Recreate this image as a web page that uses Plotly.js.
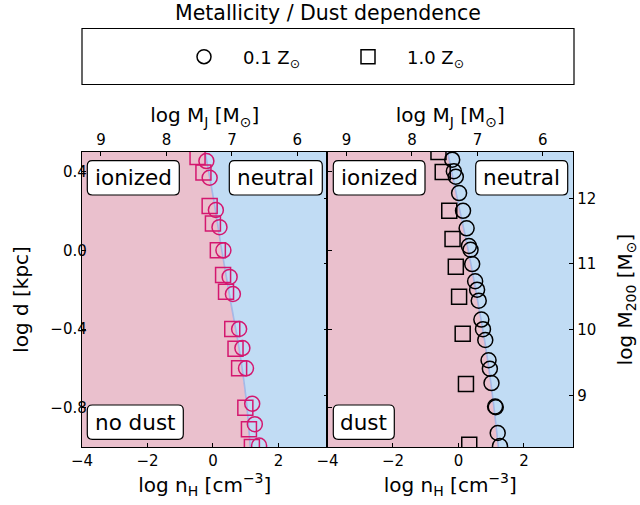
<!DOCTYPE html>
<html>
<head>
<meta charset="utf-8">
<script src="https://cdn.plot.ly/plotly-3.0.1.min.js"></script>
<style>
  html, body { margin: 0; padding: 0; background: #ffffff; }
  #chart { width: 640px; height: 505px; }
</style>
</head>
<body>
<div id="chart"></div>
<script>
// ---- data: log n_H [cm^-3] vs log d [kpc] ----
// "no dust" panel, 0.1 Z_sun (circles) and 1.0 Z_sun (squares)
const noDustCircX = [-0.20, -0.10, 0.09, 0.20, 0.32, 0.51, 0.61, 0.80, 0.90, 1.01, 1.20, 1.28, 1.41];
const noDustCircY = [0.454, 0.369, 0.205, 0.118, 0.0, -0.135, -0.222, -0.400, -0.497, -0.600, -0.780, -0.884, -0.993];
const noDustSqX   = [-0.47, -0.29, -0.10, 0.0, 0.15, 0.31, 0.40, 0.59, 0.69, 0.80, 0.99, 1.10, 1.19];
const noDustSqY   = [0.475, 0.396, 0.226, 0.137, 0.0, -0.125, -0.210, -0.400, -0.500, -0.600, -0.800, -0.910, -1.0];

// "dust" panel
const dustCircX = [-0.19, -0.14, -0.08, 0.02, 0.14, 0.25, 0.32, 0.37, 0.42, 0.51, 0.57, 0.62, 0.70, 0.75, 0.82, 0.92, 0.96, 1.01, 1.12, 1.14, 1.20, 1.27];
const dustCircY = [0.461, 0.402, 0.374, 0.291, 0.201, 0.112, 0.022, 0.003, -0.070, -0.157, -0.200, -0.256, -0.352, -0.401, -0.456, -0.559, -0.602, -0.675, -0.794, -0.798, -0.929, -0.995];
const dustSqX   = [-0.61, -0.48, -0.28, -0.18, -0.08, 0.02, 0.13, 0.23, 0.33];
const dustSqY   = [0.50, 0.398, 0.201, 0.057, -0.083, -0.236, -0.424, -0.680, -0.989];

// ionized / neutral transition curve in each panel
const edgeY      = [0.5, 0.25, 0.0, -0.25, -0.5, -0.75, -1.0];
const noDustEdgeX = [-0.24, 0.03, 0.27, 0.53, 0.80, 1.01, 1.14];
const dustEdgeX   = [-0.33, -0.02, 0.30, 0.58, 0.84, 1.05, 1.22];

// axis ranges and ticks
const nRange = [-4, 3.5];
const dRange = [-1, 0.5];
const nTicks = [-4, -2, 0, 2];
const dTicks = [0.4, 0.0, -0.4, -0.8];
const mjRange = [9.29, 5.54];          // log M_J along the top (M_J ~ n^-1/2)
const mjTicks = [9, 8, 7, 6];
const m200Range = [8.213, 12.705];     // log M200 along the right
const m200Ticks = [9, 10, 11, 12];

const legendLabels = ['0.1 Z<sub>⊙</sub>', '1.0 Z<sub>⊙</sub>'];

// ---- styling ----
const FONT = 'DejaVu Sans, sans-serif';
const PINK = '#eac0cd';
const BLUE = '#c1dcf4';
const EDGE = 'rgba(150,172,228,0.75)';
const MAGENTA = '#d4176f';

const W = 640, H = 505;
const M = {l: 82, r: 67, t: 152, b: 58};
const PW = W - M.l - M.r, PH = H - M.t - M.b;
const px = v => (v - M.l) / PW;          // pixel -> paper x
const py = v => (H - M.b - v) / PH;      // pixel -> paper y

function regionTraces(edgeX, xa, ya) {
  const top = dRange[1], bot = dRange[0];
  return [
    {x: [nRange[0]].concat(edgeX, [nRange[0]]), y: [top].concat(edgeY, [bot]),
     xaxis: xa, yaxis: ya, mode: 'lines', fill: 'toself', fillcolor: PINK,
     line: {width: 0}, hoverinfo: 'skip', showlegend: false},
    {x: [nRange[1]].concat(edgeX, [nRange[1]]), y: [top].concat(edgeY, [bot]),
     xaxis: xa, yaxis: ya, mode: 'lines', fill: 'toself', fillcolor: BLUE,
     line: {width: 0}, hoverinfo: 'skip', showlegend: false},
    {x: edgeX, y: edgeY, xaxis: xa, yaxis: ya, mode: 'lines',
     line: {color: EDGE, width: 1.6, shape: 'spline'}, hoverinfo: 'skip', showlegend: false}
  ];
}

function pts(x, y, sym, color, xa, ya) {
  return {x: x, y: y, xaxis: xa, yaxis: ya, mode: 'markers', showlegend: false,
          marker: {symbol: sym, size: 15, color: color, line: {width: 1.5, color: color}}};
}

const traces = [].concat(
  regionTraces(noDustEdgeX, 'x', 'y'),
  regionTraces(dustEdgeX, 'x2', 'y2'),
  [
    pts(noDustSqX, noDustSqY, 'square-open', MAGENTA, 'x', 'y'),
    pts(noDustCircX, noDustCircY, 'circle-open', MAGENTA, 'x', 'y'),
    pts(dustSqX, dustSqY, 'square-open', '#000000', 'x2', 'y2'),
    pts(dustCircX, dustCircY, 'circle-open', '#000000', 'x2', 'y2'),
    // empty traces that keep the secondary axes alive
    {x: [null], y: [null], xaxis: 'x3', yaxis: 'y3', mode: 'markers', showlegend: false, hoverinfo: 'skip'},
    {x: [null], y: [null], xaxis: 'x4', yaxis: 'y4', mode: 'markers', showlegend: false, hoverinfo: 'skip'},
    // legend keys
    {x: [null], y: [null], xaxis: 'x', yaxis: 'y', mode: 'markers', name: legendLabels[0],
     legend: 'legend', marker: {symbol: 'circle-open', size: 14, color: '#000', line: {width: 1.5}}},
    {x: [null], y: [null], xaxis: 'x2', yaxis: 'y2', mode: 'markers', name: legendLabels[1],
     legend: 'legend2', marker: {symbol: 'square-open', size: 14, color: '#000', line: {width: 1.5}}}
  ]
);

const tickFont = {family: FONT, size: 15, color: '#000'};
const titleFont = {family: FONT, size: 20, color: '#000'};
const baseAxis = {
  showgrid: false, zeroline: false, showline: true, linecolor: '#000', linewidth: 1.2,
  ticks: 'inside', ticklen: 4, tickwidth: 1, tickcolor: '#000', tickfont: tickFont
};

const nAxis = (domain, anchor) => Object.assign({}, baseAxis, {
  domain: domain, anchor: anchor, range: nRange, tickmode: 'array', tickvals: nTicks,
  title: {text: 'log n<sub>H</sub> [cm<sup>−3</sup>]', font: titleFont, standoff: 6}
});
const mjAxis = (over, anchor) => Object.assign({}, baseAxis, {
  overlaying: over, anchor: anchor, side: 'top', range: mjRange, tickmode: 'array', tickvals: mjTicks,
  title: {text: 'log M<sub>J</sub> [M<sub>⊙</sub>]', font: titleFont, standoff: 2}
});

const legendBase = {
  orientation: 'h', xanchor: 'left', yanchor: 'middle', y: py(57),
  itemwidth: 68, bgcolor: 'rgba(0,0,0,0)', borderwidth: 0,
  font: {family: FONT, size: 18, color: '#000'}
};

function roundBox(x0, y0, x1, y1, r) {
  const X = v => px(v), Y = v => py(v);
  return 'M' + X(x0 + r) + ',' + Y(y0) +
    ' L' + X(x1 - r) + ',' + Y(y0) + ' Q' + X(x1) + ',' + Y(y0) + ' ' + X(x1) + ',' + Y(y0 + r) +
    ' L' + X(x1) + ',' + Y(y1 - r) + ' Q' + X(x1) + ',' + Y(y1) + ' ' + X(x1 - r) + ',' + Y(y1) +
    ' L' + X(x0 + r) + ',' + Y(y1) + ' Q' + X(x0) + ',' + Y(y1) + ' ' + X(x0) + ',' + Y(y1 - r) +
    ' L' + X(x0) + ',' + Y(y0 + r) + ' Q' + X(x0) + ',' + Y(y0) + ' ' + X(x0 + r) + ',' + Y(y0) + ' Z';
}

// text boxes: [label, left, top, right, bottom] in page pixels
const boxes = [
  ['ionized', 87.3, 160.7, 179.3, 195],
  ['neutral', 229.3, 160.7, 322.3, 195],
  ['no dust', 87.3, 405, 183.3, 439.3],
  ['ionized', 333.3, 160.7, 425, 195],
  ['neutral', 475.7, 160.7, 567.7, 195],
  ['dust', 333.3, 405, 394.3, 439.3]
];

const shapes = boxes.map(b => ({
  type: 'path', xref: 'paper', yref: 'paper', path: roundBox(b[1], b[2], b[3], b[4], 5),
  fillcolor: '#ffffff', line: {color: '#000', width: 1.2}, layer: 'above'
}));
shapes.push({type: 'rect', xref: 'paper', yref: 'paper',
  x0: px(82), x1: px(574), y0: py(84.5), y1: py(28.5),
  line: {color: '#000', width: 1.2}, fillcolor: 'rgba(0,0,0,0)'});

const annotations = boxes.map(b => ({
  xref: 'paper', yref: 'paper', x: px((b[1] + b[3]) / 2), y: py((b[2] + b[4]) / 2),
  text: b[0], showarrow: false, xanchor: 'center', yanchor: 'middle',
  font: {family: FONT, size: 21.5, color: '#000'}
}));
annotations.push({xref: 'paper', yref: 'paper', x: px(328), y: py(13), text: 'Metallicity / Dust dependence',
  showarrow: false, xanchor: 'center', yanchor: 'middle', font: {family: FONT, size: 20.5, color: '#000'}});

const layout = {
  width: W, height: H, margin: M, paper_bgcolor: '#fff', plot_bgcolor: '#fff',
  font: {family: FONT, color: '#000'},
  xaxis: nAxis([0, 0.5], 'y'),
  xaxis2: nAxis([0.5, 1], 'y2'),
  xaxis3: mjAxis('x', 'y'),
  xaxis4: mjAxis('x2', 'y2'),
  yaxis: Object.assign({}, baseAxis, {domain: [0, 1], anchor: 'x', range: dRange, tickmode: 'array',
    tickvals: dTicks, tickformat: '.1f', ticklabelstandoff: -9,
    title: {text: 'log d [kpc]', font: titleFont, standoff: 16}}),
  yaxis2: Object.assign({}, baseAxis, {domain: [0, 1], anchor: 'x2', range: dRange, tickmode: 'array',
    tickvals: dTicks, showticklabels: false}),
  yaxis3: Object.assign({}, baseAxis, {overlaying: 'y', anchor: 'x', side: 'right', range: m200Range,
    tickmode: 'array', tickvals: m200Ticks, showticklabels: false}),
  yaxis4: Object.assign({}, baseAxis, {overlaying: 'y2', anchor: 'x2', side: 'right', range: m200Range,
    tickmode: 'array', tickvals: m200Ticks,
    title: {text: 'log M<sub>200</sub> [M<sub>⊙</sub>]', font: titleFont, standoff: 22}}),
  legend: Object.assign({}, legendBase, {x: px(165)}),
  legend2: Object.assign({}, legendBase, {x: px(329)}),
  shapes: shapes,
  annotations: annotations,
  showlegend: true
};

Plotly.newPlot('chart', traces, layout, {staticPlot: true, displayModeBar: false});
</script>
</body>
</html>
